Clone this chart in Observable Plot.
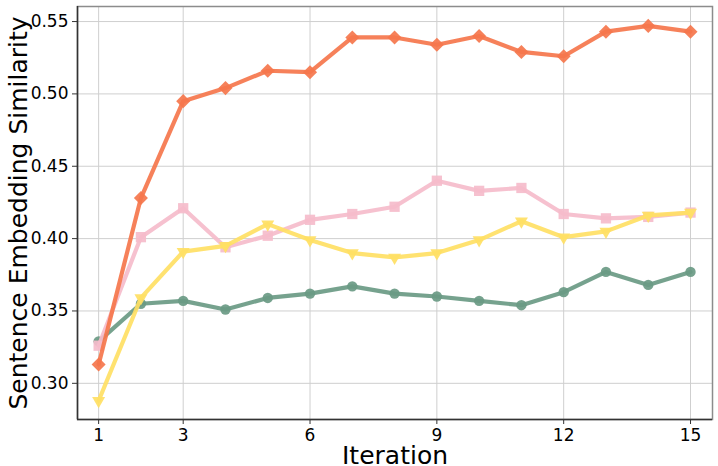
<!DOCTYPE html>
<html>
<head>
<meta charset="utf-8">
<script src="https://cdn.jsdelivr.net/npm/d3@7"></script>
<script src="https://cdn.jsdelivr.net/npm/@observablehq/plot@0.6"></script>
<style>
  html, body { margin: 0; padding: 0; background: #fff; }
</style>
</head>
<body>
<div id="chart"></div>
<script>
const iterations = [1, 2, 3, 4, 5, 6, 7, 8, 9, 10, 11, 12, 13, 14, 15];
const orangeValues = [0.313, 0.428, 0.495, 0.504, 0.516, 0.515, 0.539, 0.539, 0.534, 0.540, 0.529, 0.526, 0.543, 0.547, 0.543];
const pinkValues   = [0.326, 0.401, 0.421, 0.394, 0.402, 0.413, 0.417, 0.422, 0.440, 0.433, 0.435, 0.417, 0.414, 0.415, 0.418];
const yellowValues = [0.288, 0.359, 0.391, 0.395, 0.410, 0.399, 0.390, 0.387, 0.390, 0.399, 0.412, 0.401, 0.405, 0.416, 0.418];
const greenValues  = [0.329, 0.355, 0.357, 0.351, 0.359, 0.362, 0.367, 0.362, 0.360, 0.357, 0.354, 0.363, 0.377, 0.368, 0.377];
const xTicks = [1, 3, 6, 9, 12, 15];
const yTicks = [0.30, 0.35, 0.40, 0.45, 0.50, 0.55];

const seriesDefs = [
  {name: "green",  values: greenValues,  color: "#6a9a84", symbol: "circle",    rotate: 0,   r: 5.2},
  {name: "pink",   values: pinkValues,   color: "#f5bccb", symbol: "square",    rotate: 0,   r: 5.8},
  {name: "yellow", values: yellowValues, color: "#ffe064", symbol: "triangle2", rotate: 180, r: 6.2},
  {name: "orange", values: orangeValues, color: "#f5764c", symbol: "square",    rotate: 45,  r: 5.6}
];

const marks = [
  Plot.gridX(xTicks, {stroke: "#cfcfcf", strokeOpacity: 1, strokeWidth: 1}),
  Plot.gridY(yTicks, {stroke: "#cfcfcf", strokeOpacity: 1, strokeWidth: 1}),
  Plot.frame({stroke: "#8c8c8c", strokeWidth: 1.5}),
  Plot.axisX(xTicks, {tickSize: 5, tickPadding: 4, fontSize: 17, tickFormat: d => String(d), label: null, stroke: "#333"}),
  Plot.axisY(yTicks, {tickSize: 5, tickPadding: 4, fontSize: 17, tickFormat: d3.format(".2f"), label: null, stroke: "#333"}),
  Plot.ruleX([0.5], {stroke: "#333", strokeWidth: 1.5}),
  Plot.ruleY([0.275], {stroke: "#333", strokeWidth: 1.5})
];

for (const s of seriesDefs) {
  const data = iterations.map((it, i) => ({x: it, y: s.values[i]}));
  marks.push(Plot.lineY(data, {x: "x", y: "y", stroke: s.color, strokeWidth: 4.2, strokeOpacity: 0.92}));
  marks.push(Plot.dot(data, {x: "x", y: "y", fill: s.color, fillOpacity: 0.92, stroke: "none", symbol: s.symbol, r: s.r, rotate: s.rotate}));
}

marks.push(Plot.text(["Iteration"], {text: d => d, frameAnchor: "bottom", lineAnchor: "middle", textAnchor: "middle", dy: 36, fontSize: 25, fill: "#000"}));
marks.push(Plot.text(["Sentence Embedding Similarity"], {text: d => d, frameAnchor: "left", textAnchor: "middle", lineAnchor: "middle", dx: -59, rotate: -90, fontSize: 25, fill: "#000"}));

const chart = Plot.plot({
  width: 718,
  height: 466,
  marginLeft: 77,
  marginRight: 6,
  marginTop: 6,
  marginBottom: 47,
  style: {fontFamily: "'DejaVu Sans', sans-serif", fontSize: "17px", color: "#000", background: "#fff"},
  x: {domain: [0.5, 15.52]},
  y: {domain: [0.275, 0.5604]},
  marks
});
document.getElementById("chart").appendChild(chart);
</script>
</body>
</html>
